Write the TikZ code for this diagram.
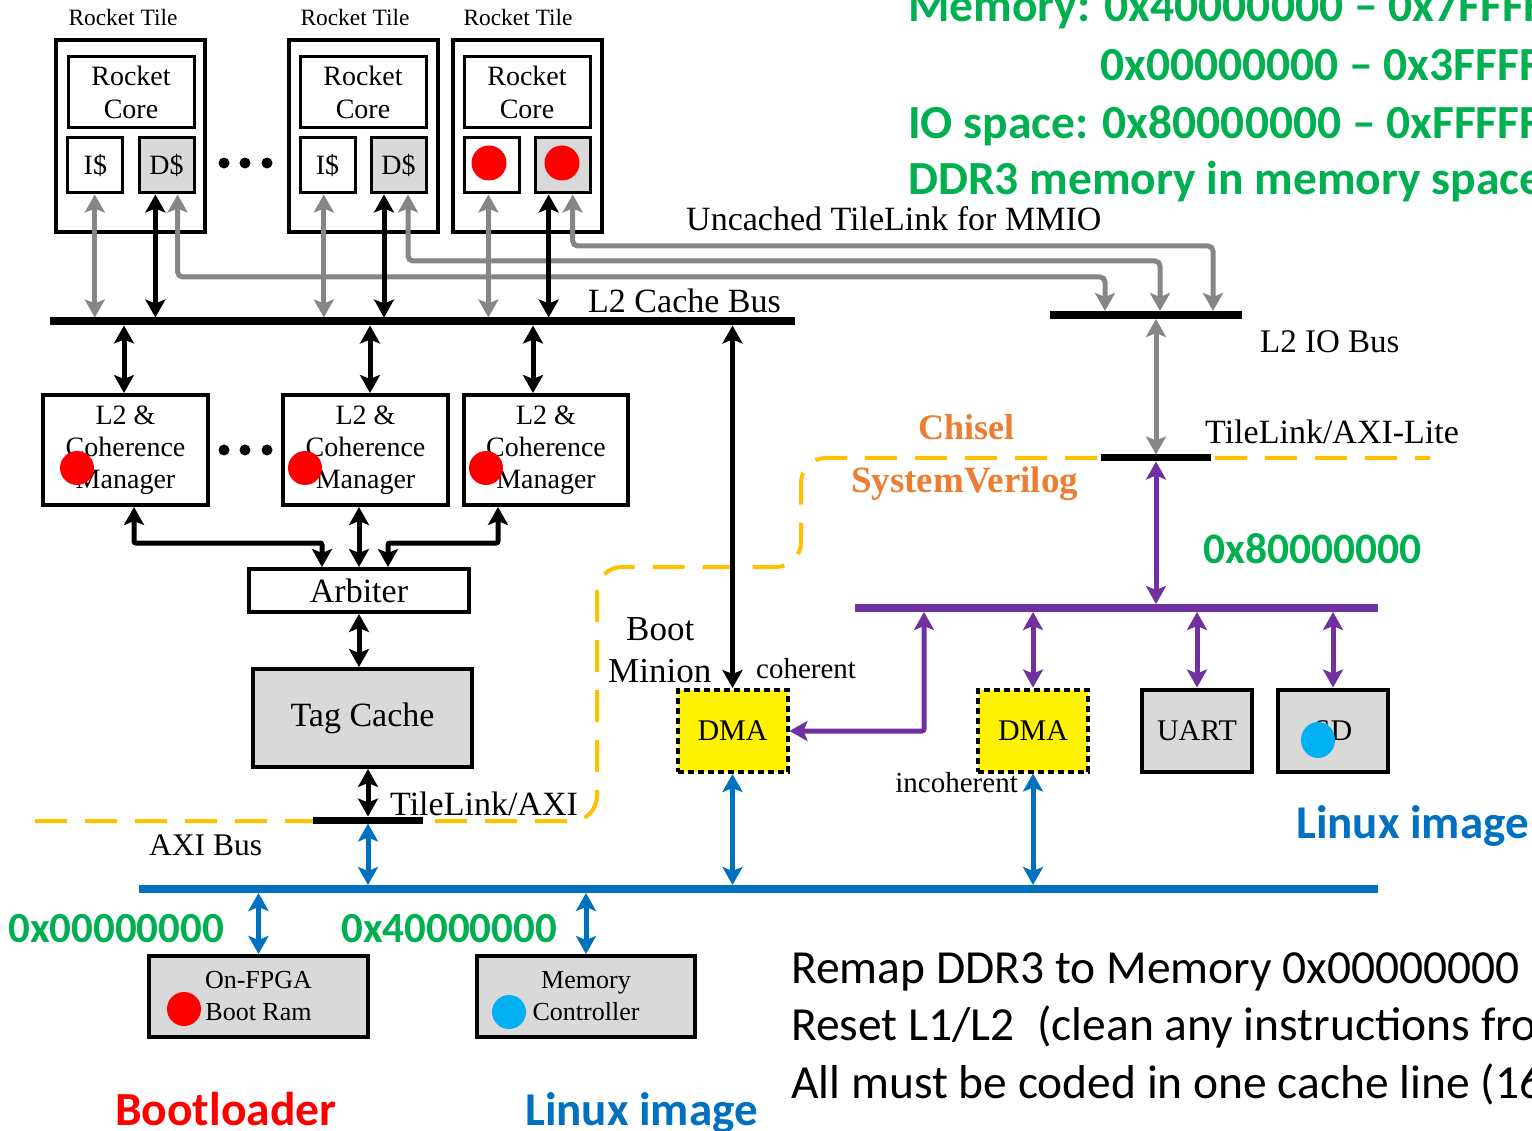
\documentclass[tikz,border=0pt]{standalone}
\usepackage{fontspec}
\setmainfont{Liberation Serif}
\newfontfamily\calib{Carlito}
\usetikzlibrary{arrows.meta}
\definecolor{cgreen}{HTML}{00B050}
\definecolor{cpurple}{HTML}{7030A0}
\definecolor{cblue}{HTML}{0070C0}
\definecolor{corange}{HTML}{ED7D31}
\definecolor{cdash}{HTML}{FFC000}
\definecolor{cgray}{HTML}{868686}
\definecolor{cbox}{HTML}{D9D9D9}
\definecolor{ccyan}{HTML}{00B0F0}
\newcommand\fsz[2]{\fontsize{#1}{#2}\selectfont}
\begin{document}
\begin{tikzpicture}[x=1pt,y=-1pt,
  >={Stealth[length=18pt,width=20pt,inset=4pt]},
  tilebox/.style={draw,line width=4pt,minimum width=149,minimum height=192,inner sep=0},
  inbox/.style={draw,line width=3pt,inner sep=0,font=\fsz{28}{33},align=center},
  mgr/.style={draw,line width=4pt,minimum width=165,minimum height=110,inner sep=0,align=center,font=\fsz{28}{32}},
  bigbox/.style={draw,line width=4pt,inner sep=0,align=center},
  dmabox/.style={draw,line width=4pt,dash pattern=on 6pt off 4pt,fill=yellow,minimum width=110,minimum height=82,inner sep=0,font=\fsz{30}{34}},
  periph/.style={draw,line width=4pt,fill=cbox,minimum width=110,minimum height=82,inner sep=0,font=\fsz{30}{34}},
  busline/.style={inner sep=0,outer sep=0},
  barr/.style={line width=5pt,<->,rounded corners=2pt},
  garr/.style={line width=5pt,<->,cgray,rounded corners=5pt},
  parr/.style={line width=5pt,<->,cpurple,rounded corners=2pt},
  blarr/.style={line width=5pt,<->,cblue},
  dashline/.style={line width=4pt,cdash,dash pattern=on 32pt off 18pt,rounded corners=25pt},
  lbl/.style={inner sep=0,anchor=base west},
  dotc/.style={fill=red},
]
\useasboundingbox (0,0) rectangle (1532,1131);
\clip (0,0) rectangle (1532,1131);
\fill[white] (0,0) rectangle (1532,1131);

% Chisel / SystemVerilog boundary
\draw[dashline] (35,821) -- (597,821) -- (597,567) -- (801,567) -- (801,458) -- (1430,458);

% buses
\node[busline,fill=black,minimum width=745,minimum height=8] (l2bus) at (422.5,321.5) {};
\node[busline,fill=black,minimum width=192,minimum height=8] (iobus) at (1146,315) {};
\node[busline,fill=black,minimum width=110,minimum height=7] (tlbar) at (1156,458) {};
\node[busline,fill=cpurple,minimum width=523,minimum height=8] (pbus) at (1116.5,608) {};
\node[busline,fill=black,minimum width=110,minimum height=7] (axibar) at (368,820) {};
\node[busline,fill=cblue,minimum width=1239,minimum height=8] (bbus) at (758.5,889) {};

% tiles
\node[tilebox] (tile1) at (130.5,136) {};
\node[tilebox] (tile2) at (363,136) {};
\node[tilebox] (tile3) at (527,136) {};
\node[inbox,minimum width=126,minimum height=71] (core1) at (131,92.5) {Rocket\\Core};
\node[inbox,minimum width=126,minimum height=71] (core2) at (363,92.5) {Rocket\\Core};
\node[inbox,minimum width=126,minimum height=71] (core3) at (527,92.5) {Rocket\\Core};
\node[inbox,minimum width=55,minimum height=55] (is1) at (95.4,165.5) {I\$};
\node[inbox,fill=cbox,minimum width=55,minimum height=55] (ds1) at (166.5,165.5) {D\$};
\node[inbox,minimum width=55,minimum height=55] (is2) at (327.5,165.5) {I\$};
\node[inbox,fill=cbox,minimum width=55,minimum height=55] (ds2) at (398.5,165.5) {D\$};
\node[inbox,minimum width=55,minimum height=55] (is3) at (492,165.5) {};
\node[inbox,fill=cbox,minimum width=55,minimum height=55] (ds3) at (562.5,165.5) {};
\fill[dotc] (489,163) circle (17.5);
\fill[dotc] (562,163) circle (17.5);
\foreach \xx in {224,245,267} {\fill (\xx,163) circle (5.5); \fill (\xx,450) circle (5.5);}

\node[lbl,anchor=base,font=\fsz{23.4}{26}] (tl1) at (123,26) {Rocket Tile};
\node[lbl,anchor=base,font=\fsz{23.4}{26}] (tl2) at (355,26) {Rocket Tile};
\node[lbl,anchor=base,font=\fsz{23.4}{26}] (tl3) at (518,26) {Rocket Tile};

% MMIO uncached links
\draw[garr] (177.6,0 |- ds1.south) -- (177.6,277) -| (1105,0 |- iobus.north);
\draw[garr] (408,0 |- ds2.south) -- (408,261) -| (1160,0 |- iobus.north);
\draw[garr] (572.7,0 |- ds3.south) -- (572.7,246) -| (1213,0 |- iobus.north);

% tile to L2 bus
\draw[garr] (94.8,0 |- is1.south) -- (94.8,0 |- l2bus.north);
\draw[barr] (155.4,0 |- ds1.south) -- (155.4,0 |- l2bus.north);
\draw[garr] (323.8,0 |- is2.south) -- (323.8,0 |- l2bus.north);
\draw[barr] (384,0 |- ds2.south) -- (384,0 |- l2bus.north);
\draw[garr] (488.4,0 |- is3.south) -- (488.4,0 |- l2bus.north);
\draw[barr] (548.7,0 |- ds3.south) -- (548.7,0 |- l2bus.north);

% L2 managers
\node[mgr] (m1) at (125.5,450) {L2 \&\\Coherence\\Manager};
\node[mgr] (m2) at (365.5,450) {L2 \&\\Coherence\\Manager};
\node[mgr,minimum width=164] (m3) at (546,450) {L2 \&\\Coherence\\Manager};
\fill[dotc] (77,468) circle (17);
\fill[dotc] (305,468) circle (17);
\fill[dotc] (486,468) circle (17);
\draw[barr] (124,0 |- l2bus.south) -- (124,0 |- m1.north);
\draw[barr] (370,0 |- l2bus.south) -- (370,0 |- m2.north);
\draw[barr] (533,0 |- l2bus.south) -- (533,0 |- m3.north);

% arbiter and tag cache
\node[bigbox,minimum width=220,minimum height=43,font=\fsz{34}{38}] (arb) at (359,590.5) {Arbiter};
\node[bigbox,fill=cbox,minimum width=219,minimum height=98,font=\fsz{34}{38}] (tag) at (362.5,718) {Tag Cache};
\draw[barr] (134,0 |- m1.south) -- (134,543) -| (322,0 |- arb.north);
\draw[barr] (359,0 |- m2.south) -- (359,0 |- arb.north);
\draw[barr] (498,0 |- m3.south) -- (498,543) -| (388,0 |- arb.north);
\draw[barr] (359,0 |- arb.south) -- (359,0 |- tag.north);
\draw[barr] (368,0 |- tag.south) -- (axibar.north);
\draw[blarr] (axibar.south) -- (axibar.south |- bbus.north);

% memory side
\node[bigbox,fill=cbox,minimum width=219,minimum height=81,font=\fsz{26}{32}] (fpga) at (258.5,996.5) {On-FPGA\\Boot Ram};
\node[bigbox,fill=cbox,minimum width=218,minimum height=81,font=\fsz{26}{32}] (memc) at (586,996.5) {Memory\\Controller};
\fill[dotc] (184,1009) circle (17);
\fill[ccyan] (509,1012) circle (17);
\draw[blarr] (fpga.north |- bbus.south) -- (fpga.north);
\draw[blarr] (memc.north |- bbus.south) -- (memc.north);

% IO side
\node[dmabox] (dma1) at (732.5,731) {DMA};
\node[dmabox] (dma2) at (1033,730.5) {DMA};
\node[periph] (uart) at (1197,730.5) {UART};
\node[periph] (sd) at (1333,730.5) {SD};
\fill[ccyan] (1318,740) ellipse (17 and 18);
\draw[barr] (dma1.north |- l2bus.south) -- (dma1.north);
\draw[garr] (1156,0 |- iobus.south) -- (tlbar.north);
\draw[parr] (tlbar.south) -- (tlbar.south |- pbus.north);
\draw[parr] (924,0 |- pbus.south) |- (dma1.east);
\draw[parr] (dma2.north |- pbus.south) -- (dma2.north);
\draw[parr] (uart.north |- pbus.south) -- (uart.north);
\draw[parr] (sd.north |- pbus.south) -- (sd.north);
\draw[blarr] (dma1.south) -- (dma1.south |- bbus.north);
\draw[blarr] (dma2.south) -- (dma2.south |- bbus.north);

% labels
\node[lbl,font=\fsz{34}{38}] (lcb) at (588,313) {L2 Cache Bus};
\node[lbl,font=\fsz{34}{38}] (unc) at (686,231) {Uncached TileLink for MMIO};
\node[lbl,font=\fsz{33}{38}] (liob) at (1260,353) {L2 IO Bus};
\node[lbl,font=\fsz{34}{38}] (tlal) at (1205,443) {TileLink/AXI-Lite};
\node[lbl,font=\fsz{36}{40}\bfseries,text=corange] (chis) at (918,440) {Chisel};
\node[lbl,font=\fsz{37}{40}\bfseries,text=corange] (sv) at (851,493) {SystemVerilog};
\node[lbl,font=\calib\fsz{43.5}{48}\bfseries,text=cgreen] (a8) at (1203,563) {0x80000000};
\node[lbl,font=\fsz{35}{38}] (boot) at (626,640) {Boot};
\node[lbl,font=\fsz{35}{38}] (minion) at (608,682) {Minion};
\node[lbl,font=\fsz{29}{32}] (coh) at (756,678) {coherent};
\node[lbl,anchor=base east,font=\fsz{29}{32}] (incoh) at (1018,792) {incoherent};
\node[lbl,font=\fsz{34}{38}] (tlaxi) at (390,815) {TileLink/AXI};
\node[lbl,font=\fsz{31.5}{36}] (axib) at (149,855) {AXI Bus};
\node[lbl,font=\calib\fsz{43}{48}\bfseries,text=cgreen] (a0) at (8,942) {0x00000000};
\node[lbl,font=\calib\fsz{43}{48}\bfseries,text=cgreen] (a4) at (341,942) {0x40000000};
\node[lbl,font=\calib\fsz{47.5}{52}\bfseries,text=red] (bl) at (115,1125) {Bootloader};
\node[lbl,font=\calib\fsz{47}{52}\bfseries,text=cblue] (li1) at (525,1125) {Linux image};
\node[lbl,font=\calib\fsz{47}{52}\bfseries,text=cblue] (li2) at (1296,838) {Linux image};

\node[lbl,font=\calib\fsz{47.5}{50}\bfseries,text=cgreen] (g1) at (908,22) {Memory: 0x40000000 – 0x7FFFFFFF};
\node[lbl,font=\calib\fsz{47.5}{50}\bfseries,text=cgreen] (g2) at (1100,81) {0x00000000 – 0x3FFFFFFF};
\node[lbl,font=\calib\fsz{47.5}{50}\bfseries,text=cgreen] (g3) at (908,139) {IO space: 0x80000000 – 0xFFFFFFFF};
\node[lbl,font=\calib\fsz{47.5}{50}\bfseries,text=cgreen] (g4) at (908,195) {DDR3 memory in memory space};

\node[lbl,font=\calib\fsz{47.5}{52}] (r1) at (791,983) {Remap DDR3 to Memory 0x00000000};
\node[lbl,font=\calib\fsz{47.5}{52}] (r2) at (791,1040) {Reset L1/L2\hspace{0.25em} (clean any instructions from};
\node[lbl,font=\calib\fsz{47.5}{52}] (r3) at (791,1098) {All must be coded in one cache line (16};
\end{tikzpicture}
\end{document}
